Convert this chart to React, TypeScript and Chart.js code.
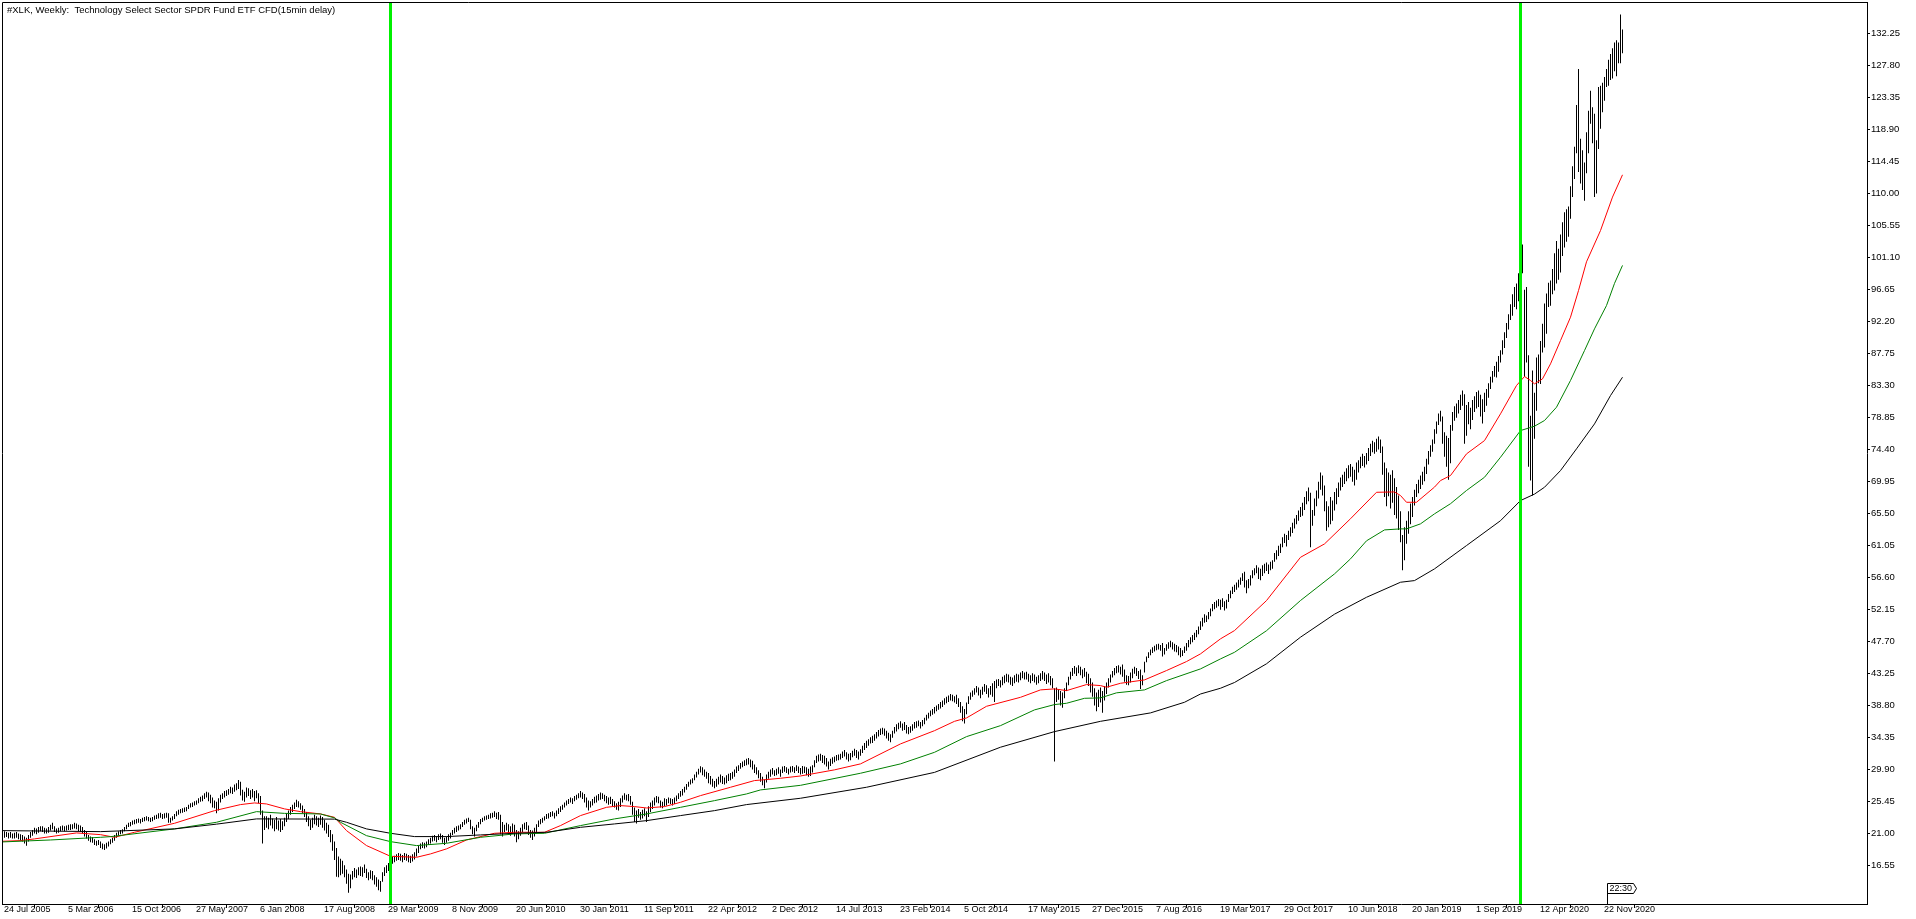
import React, { useEffect, useRef } from 'react';
import { Chart, registerables } from 'chart.js';

Chart.register(...registerables);

const W = 1916;
const H = 919;
const FONT = '"Liberation Sans", Arial, sans-serif';
const FONT_SIZE = 9.5;
const X_FONT_SIZE = 9;

const title = '#XLK, Weekly:  Technology Select Sector SPDR Fund ETF CFD(15min delay)';

// one label every 32 weekly bars, first label on bar 0
const dateLabels = [
  '24 Jul 2005', '5 Mar 2006', '15 Oct 2006', '27 May 2007', '6 Jan 2008', '17 Aug 2008',
  '29 Mar 2009', '8 Nov 2009', '20 Jun 2010', '30 Jan 2011', '11 Sep 2011', '22 Apr 2012',
  '2 Dec 2012', '14 Jul 2013', '23 Feb 2014', '5 Oct 2014', '17 May 2015', '27 Dec 2015',
  '7 Aug 2016', '19 Mar 2017', '29 Oct 2017', '10 Jun 2018', '20 Jan 2019', '1 Sep 2019',
  '12 Apr 2020', '22 Nov 2020',
];
const dateStep = 32;

const priceTicks = [
  16.55, 21.0, 25.45, 29.9, 34.35, 38.8, 43.25, 47.7, 52.15, 56.6, 61.05, 65.5, 69.95, 74.4,
  78.85, 83.3, 87.75, 92.2, 96.65, 101.1, 105.55, 110.0, 114.45, 118.9, 123.35, 127.8, 132.25,
];

// weekly bar highs, bar 0 = week of 24 Jul 2005
const highs = [
  21.5, 21.3, 21.2, 21.1, 21.2, 21.0, 21.1, 21.2, 21.0, 20.9, 20.8, 20.6, 20.4, // 0
  20.8, 21.2, 21.5, 21.8, 21.7, 21.9, 22.0, 22.0, 21.8, // 13
  21.7, 21.9, 22.2, 22.5, 22.0, 21.7, 21.8, 22.0, 22.1, 22.0, 22.1, 22.2, 22.3, 22.3, 22.5, 22.4, 22.2, 22.1, 21.9, 21.5, // 22
  21.2, 20.8, 20.6, 20.5, 20.2, 20.0, 20.1, 19.9, 19.6, 19.5, 19.7, 19.9, 20.2, 20.4, 20.8, // 42
  21.1, 21.3, 21.5, 21.6, 21.9, 22.2, 22.5, 22.6, 22.8, 22.9, 23.0, 23.1, 23.0, // 57
  23.2, 23.3, 23.4, 23.3, 23.2, 23.3, 23.5, 23.6, 23.8, 23.9, 23.7, 23.8, 23.9, 23.8, 23.2, 23.4, 23.7, // 70
  24.1, 24.3, 24.4, 24.5, 24.6, 24.7, // 87
  25.0, 25.2, 25.3, 25.5, 25.6, 25.9, 26.1, 26.3, 26.6, 26.8, 26.7, 26.4, 26.0, 25.6, // 93
  25.4, 25.9, 26.4, 26.6, 26.9, 27.0, 27.2, 27.5, 27.4, 27.8, 28.0, 28.45, 28.2, // 107
  27.1, 26.8, 27.4, 27.3, 27.0, 27.2, 26.9, 27.0, 26.6, // 120
  26.2, 24.2, 23.4, // 129
  23.4, 23.2, 23.6, 23.1, 22.9, 23.3, 22.8, 23.0, 22.7, 23.2, 23.8, 24.2, // 132
  24.7, 25.0, 25.3, 25.7, 25.5, 25.2, 24.9, 24.4, // 144
  24.0, 23.4, 22.9, 23.2, 23.6, 23.4, 23.2, 23.5, 23.3, 22.9, 22.5, // 152
  22.2, 21.5, 20.9, 19.9, // 163
  19.0, 17.8, 17.5, // 167
  17.2, 16.6, 16.0, 15.4, 15.3, 15.8, 16.2, 16.0, 16.3, 16.4, 16.3, 16.7, 16.1, 15.6, 15.9, 15.8, 15.2, 14.9, 14.6, 14.4, // 170
  15.6, 16.3, 16.6, 16.9, 17.6, // 190
  17.8, 17.9, 18.1, 18.3, 18.2, 18.0, 18.3, 18.2, 18.0, 17.9, 18.1, 18.4, 18.9, // 195
  19.3, 19.6, 19.8, 19.7, 19.9, 20.2, 20.4, // 208
  20.7, 20.8, 20.6, 20.9, 21.0, 20.8, 20.4, 20.6, 20.9, 21.1, // 215
  21.5, 21.8, 22.0, 22.1, 22.3, 22.6, 22.9, 23.1, 23.2, // 225
  22.9, 22.0, 21.8, // 234
  22.2, 22.6, 23.0, 23.2, 23.4, 23.5, 23.6, 23.8, 23.9, 24.1, 23.9, 24.0, // 237
  23.6, 22.6, 22.2, 22.5, 22.3, 22.0, 22.4, 22.2, 21.5, 21.3, // 249
  21.8, 22.3, 22.5, 22.6, 22.1, 21.5, 21.4, 21.8, 22.3, // 259
  22.8, 23.0, 23.2, 23.4, 23.7, 23.8, 24.0, 24.1, 23.9, 24.2, 24.5, 24.8, // 268
  25.0, 25.3, 25.6, 25.8, 26.0, 25.9, 26.2, 26.4, 26.6, 26.9, 26.7, 26.5, // 280
  26.0, 25.6, 25.5, 25.8, 26.1, // 292
  26.3, 26.5, 26.7, 26.6, 26.4, 26.2, 26.0, 26.1, 25.8, 25.5, // 297
  25.2, 25.4, 25.9, // 307
  26.3, 26.6, 26.4, 26.5, 26.2, // 310
  25.4, 24.6, 24.2, 24.4, 24.0, 24.3, 24.5, 24.1, 24.8, 25.3, // 315
  25.6, 26.0, 26.2, 26.1, 25.6, 25.4, 25.9, 25.8, 26.0, 25.9, // 325
  25.8, 26.0, 26.3, 26.6, 26.9, // 335
  27.2, 27.5, 27.9, 28.2, 28.5, 28.7, 29.2, 29.6, 30.0, 30.35, // 340
  30.2, 29.9, 29.6, 29.4, 29.0, 28.6, 28.3, // 350
  28.6, 28.9, 29.2, 29.0, 28.8, 29.1, 29.3, 29.4, 29.6, 29.9, // 357
  30.3, 30.5, 30.8, 31.0, 31.2, 31.4, 31.5, 31.3, 31.1, 30.6, // 367
  30.2, 29.8, 29.4, 28.9, 28.5, 29.2, // 377
  29.6, 29.9, 30.1, 29.8, 30.0, 30.2, 29.9, 30.3, 30.4, 30.2, 30.0, 30.3, 30.4, 30.2, 30.5, 30.3, 30.1, // 383
  30.4, 30.3, 30.2, 30.0, 30.3, 30.5, // 400
  31.2, 31.8, 32.0, 32.1, 31.9, 31.8, 31.5, // 406
  31.0, 31.4, 31.6, 31.7, 31.9, 32.0, 32.1, 32.4, 32.6, 32.3, 32.1, 32.2, 32.5, 32.8, 32.6, 32.4, 32.7, // 413
  33.2, 33.6, 33.9, 34.1, 34.4, 34.6, 34.8, 35.1, 35.4, 35.6, // 430
  35.7, 35.6, 35.3, 35.0, 34.8, 35.3, 35.8, // 440
  36.2, 36.4, 36.6, 36.3, 36.5, 36.1, 35.8, 35.9, 36.2, 36.5, 36.6, 36.7, 36.5, 36.8, 37.1, // 447
  37.5, 37.8, 38.1, 38.3, 38.6, 38.8, 39.0, 39.3, 39.5, 39.8, 40.0, // 462
  40.2, 40.4, 40.3, 40.1, 40.3, 39.8, 39.3, // 473
  38.7, 38.3, 39.2, // 480
  40.1, 40.6, 40.9, 41.2, 41.5, 41.3, 41.0, 41.4, 41.8, 41.6, 41.2, 41.5, 41.9, 42.2, 42.4, 42.5, 42.3, // 483
  42.8, 43.0, 43.2, 43.1, 42.8, 42.7, 43.0, 43.2, 43.1, 43.4, // 500
  43.6, 43.4, 43.5, 43.2, 43.0, 43.3, 43.1, 42.8, 43.0, 43.3, // 510
  43.6, 43.4, 43.1, 43.3, 42.9, 42.6, // 520
  41.2, // 526
  41.3, 41.0, 40.8, 40.6, 41.2, 42.0, // 527
  42.8, 43.5, 44.0, 44.3, 44.1, 44.4, 44.2, 43.8, 44.0, 43.5, // 533
  43.2, 42.6, 42.0, // 543
  41.2, 40.6, 41.0, 41.3, 40.8, 41.5, 42.0, // 546
  42.6, 43.1, 43.6, 44.0, 44.3, 44.4, 44.2, // 553
  44.5, 43.8, 43.0, 42.9, 43.4, 43.9, // 560
  44.2, 44.0, 43.6, 43.8, 43.0, // 566
  44.9, 45.6, 46.2, 46.6, 46.9, // 571
  47.1, 47.3, 47.4, 47.2, 47.5, 46.8, 47.3, 47.6, 47.8, 47.6, 47.4, 47.2, // 576
  47.0, 46.8, 46.5, 47.0, 47.5, 47.9, // 588
  48.3, 48.6, 48.9, 49.3, 49.8, 50.5, // 594
  51.0, 51.5, 51.3, 51.8, 52.3, // 600
  52.9, 53.2, 53.4, 53.6, 53.5, 53.7, 53.3, 53.5, // 605
  54.3, 54.8, 55.3, 55.6, 55.9, 56.3, 56.6, 57.2, 57.4, 56.2, 56.4, 56.9, // 613
  57.6, 57.9, 58.3, 58.0, 57.8, 58.3, 58.5, 58.7, 58.4, 58.8, 59.0, // 625
  60.0, 60.4, 61.0, 61.3, // 636
  62.2, 62.7, 62.5, 63.1, 63.6, 64.2, 64.8, 65.3, 65.9, 66.4, // 640
  67.0, 67.8, 68.6, 69.1, 68.4, // 650
  66.0, 67.6, 68.7, 69.9, 71.2, 70.8, // 655
  69.4, 67.2, 66.5, 67.8, 67.3, 68.5, 69.0, // 661
  69.8, 70.5, 70.9, 71.3, 71.8, 72.2, 72.4, 72.0, 71.6, // 668
  72.6, 72.9, 73.4, 73.8, 73.5, 73.9, // 677
  74.6, 75.2, 75.6, 75.4, 75.9, 76.2, 75.8, // 683
  74.8, 72.6, 71.8, 71.2, 70.9, 71.5, 70.4, // 690
  69.2, 68.0, 65.8, 62.5, // 697
  63.6, 64.5, 65.8, 66.9, 67.8, // 701
  68.8, 69.6, 70.2, 70.8, 71.3, 72.0, 73.1, 74.2, 75.0, 75.8, 77.2, 78.3, 79.4, 79.8, // 706
  79.0, 76.8, 76.3, 76.0, 77.8, // 720
  79.6, 80.4, 80.8, 81.3, 82.0, 82.6, // 725
  82.1, // 731
  80.6, 81.0, 80.2, 81.3, 81.8, 82.4, 82.6, 82.0, 81.4, 82.3, 82.8, // 732
  83.6, 84.5, 85.3, 86.0, 86.6, 87.4, 88.2, // 743
  89.6, 90.7, 92.0, 93.2, 94.6, 96.0, 97.0, // 750
  97.5, 98.9, 100.6, 102.9, 96.6, // 757
  97.0, 87.5, 79.1, 85.4, 82.3, 87.2, 87.6, 89.5, 91.9, 94.7, 96.1, 97.6, 97.9, 99.5, // 762
  101.7, 103.4, 102.3, 104.3, 106.0, 107.4, 107.8, 108.2, // 776
  111.0, 113.8, 116.5, 122.3, 127.3, 117.6, 116.0, 114.3, 118.5, 121.5, 124.3, 122.0, 121.1, 117.4, // 784
  124.8, 125.0, 125.4, 126.2, 127.3, 128.6, 129.4, 130.2, 131.0, 131.3, 131.0, 134.9, 132.8, // 798
];

// weekly bar lows, same order
const lows = [
  19.8, 20.4, 20.5, 20.3, 20.4, 20.3, 20.3, 20.4, 20.2, 20.0, 19.9, 19.6, 19.3, // 0
  19.9, 20.4, 20.7, 21.0, 20.9, 21.1, 21.3, 21.2, 21.0, // 13
  21.0, 21.1, 21.4, 21.6, 21.2, 21.0, 21.1, 21.3, 21.4, 21.3, 21.4, 21.5, 21.5, 21.6, 21.7, 21.6, 21.3, 21.2, 21.0, 20.6, // 22
  20.3, 20.0, 19.8, 19.7, 19.4, 19.3, 19.4, 19.0, 18.8, 18.7, 18.9, 19.2, 19.5, 19.7, 20.0, // 42
  20.4, 20.7, 20.9, 21.0, 21.3, 21.6, 21.9, 22.0, 22.2, 22.3, 22.4, 22.5, 22.4, // 57
  22.6, 22.7, 22.8, 22.7, 22.6, 22.7, 22.9, 23.0, 23.1, 23.2, 23.0, 23.1, 23.2, 22.5, 22.5, 22.8, 23.0, // 70
  23.4, 23.6, 23.8, 23.9, 24.0, 24.1, // 87
  24.4, 24.6, 24.7, 24.9, 25.0, 25.2, 25.4, 25.5, 25.8, 26.0, 25.5, 25.2, 24.6, 24.5, // 93
  23.8, 24.2, 25.3, 25.8, 26.0, 26.2, 26.4, 26.6, 26.5, 26.8, 27.0, 27.2, 26.3, // 107
  25.6, 25.4, 26.0, 26.2, 25.8, 26.0, 25.5, 25.9, 25.2, // 120
  23.6, 19.6, 21.5, // 129
  21.8, 21.6, 22.1, 21.7, 21.3, 21.6, 21.4, 21.2, 21.5, 22.0, 22.6, 23.0, // 132
  23.6, 24.0, 24.4, 24.7, 24.6, 24.3, 23.8, 23.3, // 144
  22.6, 22.0, 21.5, 21.8, 22.3, 22.1, 21.9, 22.2, 21.8, 21.4, 21.0, // 152
  20.5, 19.8, 18.6, 17.3, // 163
  15.0, 14.9, 15.2, // 167
  15.4, 14.9, 14.0, 12.75, 13.4, 14.6, 14.9, 14.8, 15.2, 15.1, 15.0, 15.5, 14.8, 14.5, 14.7, 14.5, 13.9, 13.6, 13.1, 12.9, // 170
  14.3, 15.1, 15.5, 15.8, 16.4, // 190
  16.8, 17.0, 17.2, 17.3, 17.2, 17.0, 17.3, 17.2, 17.0, 16.9, 17.1, 17.4, 17.8, // 195
  18.3, 18.8, 19.0, 18.9, 19.1, 19.4, 19.6, // 208
  19.9, 20.0, 19.8, 20.1, 20.2, 19.7, 19.4, 19.7, 20.0, 20.3, // 215
  20.8, 21.0, 21.2, 21.4, 21.6, 21.9, 22.2, 22.4, 22.6, // 225
  21.6, 20.9, 20.6, // 234
  21.3, 21.8, 22.3, 22.6, 22.8, 22.9, 23.0, 23.1, 23.2, 23.3, 23.0, 22.9, // 237
  20.9, 20.6, 21.2, 21.4, 21.0, 20.7, 21.0, 20.6, 19.8, 20.2, // 249
  20.7, 21.2, 21.6, 21.5, 20.8, 20.4, 20.1, 20.6, 21.2, // 259
  21.9, 22.3, 22.5, 22.8, 23.0, 23.1, 23.3, 23.4, 23.1, 23.4, 23.7, 24.0, // 268
  24.3, 24.6, 24.9, 25.1, 25.3, 25.1, 25.5, 25.7, 25.9, 26.0, 25.8, 25.3, // 280
  24.6, 24.2, 24.6, 24.9, 25.2, // 292
  25.3, 25.6, 25.7, 25.8, 25.5, 25.2, 25.0, 25.1, 24.8, 24.6, // 297
  24.3, 24.2, 24.7, // 307
  25.3, 25.7, 25.6, 25.5, 25.0, // 310
  23.6, 22.6, 22.4, 23.2, 22.9, 23.1, 23.4, 22.6, 23.3, 24.0, // 315
  24.4, 24.9, 25.3, 25.2, 24.6, 24.5, 24.8, 24.9, 25.2, 25.1, // 325
  24.9, 25.1, 25.5, 25.8, 26.1, // 335
  26.3, 26.7, 27.1, 27.5, 27.8, 28.0, 28.4, 28.8, 29.2, 29.5, // 340
  29.1, 28.9, 28.6, 28.0, 27.8, 27.5, 27.3, // 350
  27.5, 27.8, 28.1, 27.9, 27.8, 28.0, 28.3, 28.4, 28.6, 28.9, // 357
  29.4, 29.7, 30.0, 30.2, 30.4, 30.5, 30.6, 30.2, 29.9, 29.4, // 367
  29.2, 28.7, 28.2, 27.7, 27.3, 28.1, // 377
  28.6, 28.9, 29.2, 29.0, 29.1, 29.3, 28.9, 29.4, 29.6, 29.4, 29.2, 29.5, 29.6, 29.4, 29.7, 29.4, 29.2, // 383
  29.3, 29.4, 29.1, 28.9, 29.0, 29.5, // 400
  30.2, 30.8, 31.0, 31.1, 30.8, 30.6, 30.3, // 406
  29.9, 30.4, 30.7, 30.9, 31.1, 31.2, 31.3, 31.5, 31.7, 31.3, 31.0, 31.2, 31.6, 31.8, 31.5, 31.3, 31.8, // 413
  32.2, 32.6, 32.9, 33.2, 33.5, 33.6, 33.9, 34.2, 34.5, 34.7, // 430
  34.8, 34.6, 34.2, 33.9, 33.7, 34.3, 34.9, // 440
  35.2, 35.5, 35.7, 35.3, 35.4, 34.9, 34.8, 35.0, 35.3, 35.6, 35.7, 35.9, 35.6, 35.9, 36.2, // 447
  36.7, 37.0, 37.3, 37.5, 37.7, 38.0, 38.2, 38.4, 38.6, 38.9, 39.1, // 462
  39.3, 39.5, 39.4, 39.2, 39.0, 38.6, 37.8, // 473
  36.6, 36.3, 37.6, // 480
  39.0, 39.6, 40.0, 40.3, 40.6, 40.2, 39.8, 40.3, 40.7, 40.4, 39.9, 40.3, 40.0, 39.3, 41.2, 41.5, 41.3, // 483
  41.6, 41.9, 42.1, 42.0, 41.7, 41.5, 41.9, 42.1, 42.0, 42.3, // 500
  42.6, 42.4, 42.4, 42.1, 41.9, 42.2, 42.0, 41.7, 41.9, 42.2, // 510
  42.4, 42.2, 41.8, 42.0, 41.6, 41.2, // 520
  31.0, // 526
  39.3, 39.6, 38.8, 38.5, 39.8, 40.8, // 527
  41.6, 42.4, 42.9, 43.2, 42.9, 43.3, 43.0, 42.6, 42.8, 41.9, // 533
  41.5, 40.6, 40.0, // 543
  38.8, 38.0, 38.6, 39.2, 37.8, 39.5, 40.4, // 546
  41.3, 42.0, 42.7, 43.0, 43.3, 43.4, 43.1, // 553
  42.8, 42.1, 41.7, 41.6, 42.0, 42.6, // 560
  43.2, 42.9, 42.5, 41.1, 41.6, // 566
  43.4, 44.8, 45.4, 45.8, 46.1, // 571
  46.3, 46.5, 46.6, 46.4, 45.6, 45.9, 46.4, 46.7, 46.9, 46.6, 46.3, 46.2, // 576
  45.8, 45.5, 45.7, 46.1, 46.4, 46.9, // 588
  47.3, 47.6, 47.9, 48.3, 48.7, 49.3, // 594
  49.8, 50.3, 50.4, 50.8, 51.2, // 600
  51.9, 52.2, 52.4, 52.6, 52.1, 52.5, 52.0, 52.3, // 605
  53.2, 53.7, 54.3, 54.6, 54.9, 55.2, 55.6, 56.1, 55.2, 54.4, 55.1, 55.5, // 613
  56.5, 56.9, 57.2, 56.4, 56.2, 56.8, 57.2, 57.5, 57.1, 57.6, 57.8, // 625
  58.8, 59.1, 59.6, 60.0, // 636
  60.8, 61.4, 60.9, 61.8, 62.3, 62.8, 63.4, 64.0, 64.5, 65.0, // 640
  65.2, 66.0, 66.8, 67.2, 60.8, // 650
  63.8, 65.2, 66.5, 67.6, 68.8, 68.0, // 655
  65.8, 63.1, 63.6, 64.0, 64.5, 65.9, 66.8, // 661
  67.8, 68.7, 69.2, 69.6, 70.0, 70.4, 70.6, 69.9, 69.4, // 668
  70.2, 71.2, 71.8, 72.1, 71.9, 72.3, // 677
  72.8, 73.5, 74.0, 73.8, 74.1, 74.4, 73.9, // 683
  70.9, 67.8, 66.5, 67.9, 66.2, 67.0, 65.3, // 690
  64.8, 63.2, 61.5, 57.6, // 697
  59.0, 61.3, 62.7, 64.0, 65.0, // 701
  66.6, 67.8, 68.3, 68.9, 69.5, 70.0, 71.0, 72.3, 73.4, 74.1, 75.2, 76.6, 77.8, 78.3, // 706
  75.2, 73.4, 72.0, 70.2, 72.5, // 720
  77.0, 78.4, 78.8, 79.4, 79.9, 80.5, // 725
  75.2, // 731
  76.3, 77.9, 77.2, 78.5, 79.6, 80.1, 80.3, 79.0, 78.0, 79.6, 80.5, // 732
  81.6, 82.8, 83.7, 84.5, 84.4, 85.2, 86.5, // 743
  87.6, 88.5, 89.9, 91.1, 92.4, 93.0, 94.2, // 750
  93.9, 95.0, 96.8, 98.9, 84.5, // 757
  86.5, 72.0, 70.1, 68.0, 75.9, 79.8, 83.6, 83.5, 87.9, 88.6, 90.5, 94.2, 94.4, 96.0, // 762
  96.5, 97.5, 98.0, 99.0, 101.3, 102.5, 103.3, 104.0, // 776
  106.5, 109.5, 112.0, 115.6, 113.0, 111.4, 110.5, 109.0, 112.8, 115.6, 119.7, 117.0, 109.5, 110.0, // 784
  116.2, 119.0, 121.3, 122.9, 124.8, 125.0, 125.8, 126.0, 127.0, 126.3, 128.1, 128.1, 129.5, // 798
];

// moving averages: bar index and value
const redIdx = [0, 9, 16, 37, 49, 56, 66, 86, 106, 119, 126, 132, 141, 149, 159, 166, 172, 182, 194, 207, 214, 222, 232, 246, 256, 271, 279, 289, 302, 309, 316, 322, 331, 339, 349, 364, 376, 382, 389, 399, 416, 429, 449, 466, 476, 482, 492, 509, 519, 526, 532, 542, 549, 552, 559, 571, 582, 592, 599, 609, 616, 632, 649, 661, 674, 687, 696, 699, 702, 707, 716, 719, 724, 732, 741, 749, 757, 761, 764, 766, 770, 774, 779, 784, 788, 792, 799, 805, 810];
const redVal = [19.92, 20.01, 20.25, 21.08, 20.84, 20.47, 21.17, 22.42, 24.18, 25.02, 25.25, 25.11, 24.42, 24.04, 23.72, 23.25, 21.4, 19.32, 17.83, 17.69, 18.16, 18.86, 20.1, 21.03, 21.17, 21.17, 22.1, 23.49, 24.64, 24.88, 24.74, 24.55, 24.74, 25.34, 26.27, 27.43, 28.36, 28.5, 28.68, 29.0, 29.85, 30.68, 33.46, 35.3, 36.6, 37.07, 38.69, 39.94, 40.97, 41.11, 40.87, 41.71, 41.57, 41.34, 41.89, 42.36, 43.66, 44.91, 45.98, 48.07, 49.22, 53.39, 59.41, 61.27, 64.77, 68.45, 68.5, 68.0, 67.06, 67.06, 69.17, 70.08, 70.78, 73.79, 75.64, 79.36, 83.3, 84.55, 84.0, 83.53, 84.22, 86.31, 89.55, 92.8, 96.5, 100.5, 104.85, 109.5, 112.6];

const greenIdx = [0, 24, 49, 54, 86, 107, 127, 141, 159, 166, 169, 182, 194, 207, 222, 239, 256, 271, 289, 306, 322, 339, 356, 372, 379, 399, 429, 449, 466, 482, 499, 516, 526, 532, 541, 549, 557, 571, 582, 599, 609, 616, 632, 649, 666, 674, 682, 691, 699, 702, 709, 716, 724, 732, 741, 749, 759, 766, 771, 777, 784, 791, 796, 802, 806, 810];
const greenVal = [19.83, 20.1, 20.47, 20.56, 21.64, 22.56, 24.04, 23.8, 23.72, 23.17, 22.56, 20.7, 19.87, 19.32, 19.64, 20.47, 20.94, 21.03, 22.1, 23.03, 23.72, 24.64, 25.57, 26.5, 27.06, 27.7, 29.38, 30.68, 32.29, 34.47, 36.0, 38.19, 38.93, 39.11, 39.8, 39.86, 40.56, 40.97, 42.26, 43.89, 45.28, 46.2, 49.2, 53.4, 57.1, 59.19, 61.7, 63.22, 63.36, 63.36, 64.06, 65.45, 66.86, 68.7, 70.54, 73.32, 77.03, 77.64, 78.43, 80.28, 84.0, 88.16, 91.18, 94.42, 97.5, 100.0];

const blackIdx = [0, 49, 86, 107, 127, 166, 172, 182, 194, 206, 222, 239, 256, 272, 289, 306, 322, 339, 356, 372, 399, 432, 466, 499, 526, 549, 574, 591, 599, 609, 616, 632, 649, 666, 682, 699, 706, 716, 732, 749, 759, 766, 771, 779, 787, 796, 804, 810];
const blackVal = [21.4, 21.26, 21.64, 22.3, 23.03, 23.0, 22.56, 21.64, 21.03, 20.57, 20.57, 20.8, 21.03, 21.17, 21.86, 22.33, 22.79, 23.49, 24.18, 25.02, 25.9, 27.43, 29.5, 33.0, 35.17, 36.6, 37.77, 39.25, 40.4, 41.2, 42.0, 44.6, 48.3, 51.5, 53.85, 55.94, 56.17, 57.8, 61.04, 64.5, 67.3, 68.2, 69.15, 71.47, 74.49, 77.96, 81.9, 84.45];

// vertical marker lines (bar index) and time box
const vlineIdx = [194, 759];
const timeBoxIdx = 802.25;
const timeBoxText = '22:30';

const COLORS = {
  bar: '#000000',
  red: '#ff0000',
  green: '#008000',
  black: '#000000',
  vline: '#00f000',
  axis: '#000000',
};

// axis ranges (chart area pixels 2..904 vertically, 2..1867 horizontally)
const Y_MIN = 11.196;
const Y_MAX = 136.63;
const X_MIN = -0.25;
const X_MAX = 932.25;

const overlayPlugin = {
  id: 'mt4overlay',
  afterDatasetsDraw(chart: any) {
    const { ctx, chartArea, scales } = chart;
    const xs = scales.x;
    ctx.save();
    ctx.fillStyle = COLORS.vline;
    for (const v of vlineIdx) {
      const px = Math.floor(xs.getPixelForValue(v));
      ctx.fillRect(px - 1, chartArea.top, 3, chartArea.bottom - chartArea.top);
    }
    ctx.restore();
  },
  afterDraw(chart: any) {
    const { ctx, chartArea, scales } = chart;
    const xs = scales.x;
    ctx.save();
    // frame
    ctx.strokeStyle = COLORS.axis;
    ctx.lineWidth = 1;
    ctx.beginPath();
    ctx.moveTo(chartArea.left + 0.5, chartArea.bottom + 0.5);
    ctx.lineTo(chartArea.left + 0.5, chartArea.top + 0.5);
    ctx.lineTo(chartArea.right + 0.5, chartArea.top + 0.5);
    ctx.stroke();
    // title
    ctx.fillStyle = '#000';
    ctx.font = `${FONT_SIZE}px ${FONT}`;
    ctx.textBaseline = 'middle';
    ctx.textAlign = 'left';
    ctx.fillText(title, chartArea.left + 5, chartArea.top + 8);
    // time box
    const bx = Math.round(xs.getPixelForValue(timeBoxIdx)) + 0.5;
    const by0 = chartArea.bottom - 20.5;
    const by1 = chartArea.bottom - 10.5;
    const bw = 26;
    ctx.fillStyle = '#fff';
    ctx.beginPath();
    ctx.moveTo(bx, chartArea.bottom);
    ctx.lineTo(bx, by0);
    ctx.lineTo(bx + bw, by0);
    ctx.lineTo(bx + bw + 3, (by0 + by1) / 2);
    ctx.lineTo(bx + bw, by1);
    ctx.lineTo(bx, by1);
    ctx.fill();
    ctx.stroke();
    ctx.fillStyle = '#000';
    ctx.font = `${X_FONT_SIZE}px ${FONT}`;
    ctx.fillText(timeBoxText, bx + 2, (by0 + by1) / 2 + 0.5);
    ctx.restore();
  },
};

export default function App() {
  const ref = useRef<HTMLCanvasElement>(null);
  useEffect(() => {
    const canvas = ref.current;
    if (!canvas) return;
    const bars = highs.map((h, i) => ({ x: i, y: [lows[i], h] }));
    const mk = (idx: number[], val: number[]) => idx.map((x, k) => ({ x, y: val[k] }));
    const font = { family: FONT, size: FONT_SIZE };
    const xFont = { family: FONT, size: X_FONT_SIZE };
    const chart = new Chart(canvas, {
      type: 'bar',
      data: {
        datasets: [
          {
            type: 'line',
            data: mk(blackIdx, blackVal),
            borderColor: COLORS.black,
            borderWidth: 1,
            pointRadius: 0,
            tension: 0,
            order: 0,
          } as any,
          {
            type: 'line',
            data: mk(greenIdx, greenVal),
            borderColor: COLORS.green,
            borderWidth: 1,
            pointRadius: 0,
            tension: 0,
            order: 0,
          } as any,
          {
            type: 'line',
            data: mk(redIdx, redVal),
            borderColor: COLORS.red,
            borderWidth: 1,
            pointRadius: 0,
            tension: 0,
            order: 0,
          } as any,
          {
            type: 'bar',
            data: bars,
            backgroundColor: COLORS.bar,
            borderWidth: 0,
            barThickness: 1,
            inflateAmount: 0,
            order: 5,
          } as any,
        ],
      },
      options: {
        responsive: false,
        animation: false,
        devicePixelRatio: 1,
        layout: { padding: { left: 2, top: 2, right: 0, bottom: 0 } },
        plugins: { legend: { display: false }, tooltip: { enabled: false }, title: { display: false } },
        events: [],
        scales: {
          x: {
            type: 'linear',
            min: X_MIN,
            max: X_MAX,
            offset: false,
            afterBuildTicks: (s: any) => {
              s.ticks = dateLabels.map((_, k) => ({ value: k * dateStep }));
            },
            afterFit: (s: any) => {
              s.height = H - 904;
              s.paddingLeft = 0;
              s.paddingRight = 0;
              s.paddingTop = 0;
              s.paddingBottom = 0;
            },
            ticks: {
              autoSkip: false,
              maxRotation: 0,
              minRotation: 0,
              align: 'start',
              padding: -4,
              labelOffset: 1.5,
              color: '#000',
              font: xFont,
              callback: (_v: any, i: number) => dateLabels[i],
            },
            grid: { display: true, drawOnChartArea: false, drawTicks: true, tickLength: 4, color: COLORS.axis, lineWidth: 1 },
            border: { display: true, color: COLORS.axis, width: 1 },
          },
          y: {
            type: 'linear',
            position: 'right',
            min: Y_MIN,
            max: Y_MAX,
            afterBuildTicks: (s: any) => {
              s.ticks = priceTicks.map((v) => ({ value: v }));
            },
            afterFit: (s: any) => {
              s.width = W - 1867;
              s.paddingLeft = 0;
              s.paddingRight = 0;
              s.paddingTop = 0;
              s.paddingBottom = 0;
            },
            ticks: {
              autoSkip: false,
              padding: 1,
              color: '#000',
              font,
              callback: (v: any) => Number(v).toFixed(2),
            },
            grid: { display: true, drawOnChartArea: false, drawTicks: true, tickLength: 3, color: COLORS.axis, lineWidth: 1 },
            border: { display: true, color: COLORS.axis, width: 1 },
          },
        },
      } as any,
      plugins: [overlayPlugin],
    });
    return () => chart.destroy();
  }, []);
  return (
    <div style={{ position: 'fixed', left: 0, top: 0, width: W, height: H, background: '#fff' }}>
      <canvas ref={ref} width={W} height={H} style={{ display: 'block', width: W, height: H }} />
    </div>
  );
}
